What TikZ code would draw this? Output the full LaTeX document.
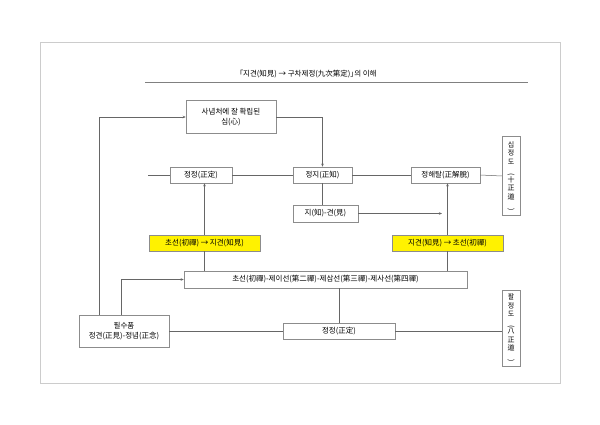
\documentclass[tikz,border=0pt]{standalone}
\usepackage{fontspec}
\setmainfont{Noto Sans CJK KR}[RawFeature={+palt}]
\usetikzlibrary{arrows.meta}
\begin{document}
\begin{tikzpicture}[x=1pt,y=-1pt,
  bx/.style={draw=black!45,line width=0.5pt,fill=white,inner sep=0pt,font=\fontsize{7.5}{9.5}\selectfont,align=center},
  yb/.style={bx,fill=yellow},
  ln/.style={draw=black!60,line width=0.5pt},
  ar/.style={ln,-{Stealth[length=3pt,width=2.5pt]}}]
\useasboundingbox (0,0) rectangle (600,425);
\draw[black!20] (40,42) rectangle (560,383);
\node[font=\fontsize{7.5}{8}\selectfont] (title) at (308,74) {「지견(知見) → 구차제정(九次第定)」의 이해};
\draw[black!50] (145,82) -- (528,82);
% boxes
\node[bx,minimum width=90pt,minimum height=33pt] (snc) at (231,117) {사념처에 잘 확립된\\심(心)};
\node[bx,minimum width=62pt,minimum height=16pt] (jj1) at (201,175) {정정(正定)};
\node[bx,minimum width=59pt,minimum height=16pt] (jji) at (322.5,175) {정지(正知)};
\node[bx,minimum width=69pt,minimum height=16pt] (jhd) at (445.5,175) {정해탈(正解脫)};
\node[bx,minimum width=18pt,minimum height=79pt,font=\fontsize{7}{8.7}\selectfont] (sjd) at (511,176) {십\\정\\도\\\rotatebox{-90}{(}\\十\\正\\道\\\rotatebox{-90}{)}};
\node[bx,minimum width=65pt,minimum height=17pt] (jg) at (325.5,213.5) {지(知)-견(見)};
\node[yb,minimum width=111pt,minimum height=16pt] (y1) at (204.5,243) {초선(初禪) → 지견(知見)};
\node[yb,minimum width=111pt,minimum height=16pt] (y2) at (447.5,243) {지견(知見) → 초선(初禪)};
\node[bx,minimum width=283pt,minimum height=17pt] (cs) at (325.5,279.5) {초선(初禪)-제이선(第二禪)-제삼선(第三禪)-제사선(第四禪)};
\node[bx,minimum width=90pt,minimum height=32pt] (psp) at (124,331) {필수품\\정견(正見)-정념(正念)};
\node[bx,minimum width=112pt,minimum height=16pt] (jj2) at (339,331) {정정(正定)};
\node[bx,minimum width=18pt,minimum height=76pt,font=\fontsize{7}{8.5}\selectfont] (pjd) at (511,328) {팔\\정\\도\\\rotatebox{-90}{(}\\八\\正\\道\\\rotatebox{-90}{)}};
% connectors
\coordinate (l0) at (148,175);
\draw[ln] (l0) -- (jj1.west);
\draw[ln] (jj1.east) -- (jji.west);
\draw[ln] (jji.east) -- (jhd.west);
\draw[ln] (jhd.east) -- (sjd.west);
\draw[ar] (snc.east) -| (jji.north);
\draw[ar] (psp.north -| 99,0) -- (99,117) -- (snc.west);
\draw[ln] (jji.south) -- (jji.south |- jg.north);
\draw[ar] (jg.east) -- (442,213.5);
\draw[ar] (y1.north) -- (y1.north |- jj1.south);
\draw[ln] (y1.south) -- (y1.south |- cs.north);
\draw[ar] (y2.north) -- (y2.north |- jhd.south);
\draw[ln] (y2.south) -- (y2.south |- cs.north);
\draw[ar] (psp.north -| 121,0) -- (121,279.5) -- (cs.west);
\draw[ln] (cs.south -| jj2.north) -- (jj2.north);
\draw[ln] (psp.east) -- (jj2.west);
\draw[ln] (jj2.east) -- (jj2.east -| pjd.west);
\end{tikzpicture}
\end{document}
